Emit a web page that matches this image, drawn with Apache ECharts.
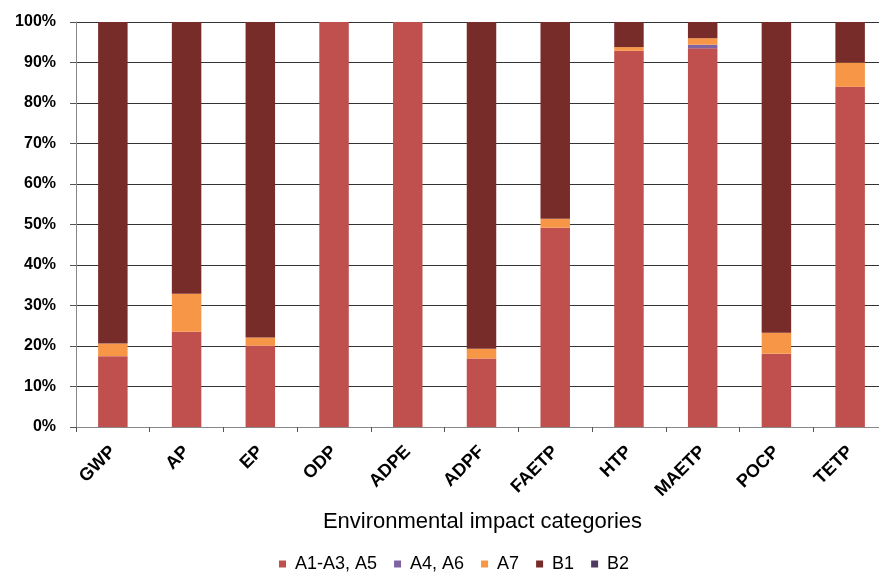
<!DOCTYPE html>
<html>
<head>
<meta charset="utf-8">
<title>Environmental impact categories</title>
<script src="https://cdn.jsdelivr.net/npm/echarts@6/dist/echarts.min.js"></script>
<style>
  html, body { margin: 0; padding: 0; background: #fff; }
  #chart { width: 879px; height: 573px; }
</style>
</head>
<body>
<div id="chart"></div>
<script>
// categories on the x axis
const categories = ['GWP', 'AP', 'EP', 'ODP', 'ADPE', 'ADPF', 'FAETP', 'HTP', 'MAETP', 'POCP', 'TETP'];
// share of each life cycle stage (%)
const a1a3a5 = [17.5, 23.5, 20.1, 100, 100, 16.9, 49.2, 92.9, 93.5, 18.1, 84.0];
const a4a6 = [0, 0, 0, 0, 0, 0, 0, 0, 0.9, 0, 0];
const a7 = [3.1, 9.4, 2.0, 0, 0, 2.4, 2.2, 0.9, 1.6, 5.2, 6.0];
const b1 = [79.4, 67.1, 77.9, 0, 0, 80.7, 48.6, 6.2, 4.0, 76.7, 10.0];
const b2 = [0, 0, 0, 0, 0, 0, 0, 0, 0, 0, 0];
const seriesNames = ['A1-A3, A5', 'A4, A6', 'A7', 'B1', 'B2'];
const customColors = ['#C0504D', '#8064A2', '#F79646', '#772C2A', '#4F3B62'];

function getChartOption() {
  const dataList = [a1a3a5, a4a6, a7, b1, b2];
  const series = dataList.map((d, i) => ({
    name: seriesNames[i],
    type: 'bar',
    stack: 'total',
    data: d,
    barWidth: '40%',
    itemStyle: { color: customColors[i] },
  }));

  return {
    animation: false,
    textStyle: { fontFamily: 'Liberation Sans, Arial, sans-serif' },
    // the plot runs past the right edge of the picture, as in the original
    grid: { left: 76, width: 811, top: 22, bottom: 146, outerBoundsMode: 'none' },
    legend: {
      data: seriesNames,
      left: 274,
      top: 550,
      icon: 'rect',
      itemWidth: 7,
      itemHeight: 7,
      itemGap: 17,
      textStyle: { fontSize: 18, color: '#000', padding: [0, 0, 0, 4] },
    },
    xAxis: {
      type: 'category',
      data: categories,
      name: 'Environmental impact categories',
      nameLocation: 'middle',
      nameGap: 84,
      nameTextStyle: { fontSize: 22, color: '#000', padding: [0, 0, 0, 2] },
      axisLine: { lineStyle: { color: '#888', width: 1 } },
      axisTick: { show: true, length: 5, lineStyle: { color: '#555' } },
      axisLabel: {
        interval: 0,
        rotate: 45,
        margin: 22,
        fontSize: 18,
        fontWeight: 'bold',
        color: '#000',
      },
    },
    yAxis: {
      type: 'value',
      min: 0,
      max: 100,
      interval: 10,
      axisLine: { show: true, lineStyle: { color: '#888' } },
      axisTick: { show: true, length: 6, lineStyle: { color: '#555' } },
      axisLabel: {
        formatter: '{value}%',
        margin: 20,
        fontSize: 16,
        fontWeight: 'bold',
        color: '#000',
      },
      splitLine: { lineStyle: { color: '#333', width: 1 } },
    },
    series: series,
  };
}

const myChart = echarts.init(document.getElementById('chart'));
myChart.setOption(getChartOption());
</script>
</body>
</html>
